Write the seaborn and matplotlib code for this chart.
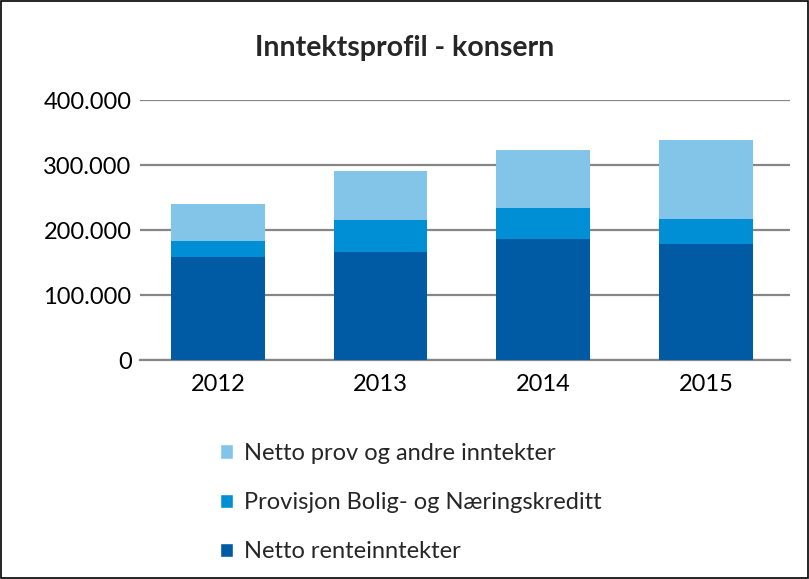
import numpy as np
import matplotlib
matplotlib.use("Agg")
import matplotlib.pyplot as plt
import pandas as pd
import seaborn as sns
from matplotlib.patches import Rectangle, Patch

# data (tusen kr)
years = ["2012", "2013", "2014", "2015"]
netto_rente = [159, 167, 187, 178]
provisjon = [25, 49, 47, 39]
netto_prov = [57, 75, 89, 122]

series_names = ["Netto renteinntekter", "Provisjon Bolig- og Næringskreditt",
                "Netto prov og andre inntekter"]
colors = ["#005BA4", "#008FD4", "#82C5E8"]

sns.set_style("white")
plt.rcParams["font.family"] = ["Lato", "DejaVu Sans"]

fig = plt.figure(figsize=(8.09, 5.79), dpi=100)
ax = fig.add_axes([0.173, 0.378, 0.804, 0.449])

df = pd.DataFrame({"year": years, series_names[0]: netto_rente,
                   series_names[1]: provisjon, series_names[2]: netto_prov})
bottom = np.zeros(len(years))
for name, col in zip(series_names, colors):
    sns.barplot(data=df, x="year", y=name, color=col, width=0.575,
                bottom=bottom, ax=ax, saturation=1, zorder=3, linewidth=0)
    bottom = bottom + df[name].values

ax.set_ylim(0, 400)
ax.set_xlim(-0.48, 3.52)
ax.set_yticks([0, 100, 200, 300, 400])
ax.set_yticklabels([f"{v*1000:,.0f}".replace(",", ".") for v in [0, 100, 200, 300, 400]])
ax.yaxis.grid(True, color="#868686", linewidth=1.6, zorder=0)
ax.set_axisbelow(True)
for s in ["top", "right", "left"]:
    ax.spines[s].set_visible(False)
ax.spines["bottom"].set_color("#868686")
ax.spines["bottom"].set_linewidth(1.6)
ax.tick_params(axis="both", length=0, labelsize=17, colors="black")
ax.tick_params(axis="x", pad=10)
ax.tick_params(axis="y", pad=6)
ax.set_xlabel("")
ax.set_ylabel("")

fig.text(0.5, 0.917, "Inntektsprofil - konsern", ha="center", va="center",
         fontsize=20.5, fontweight="bold")

handles = [Patch(facecolor=c) for c in colors[::-1]]
fig.legend(handles, series_names[::-1], loc="upper left",
           bbox_to_anchor=(0.246, 0.272), frameon=False, fontsize=17,
           handlelength=0.55, handleheight=0.55, handletextpad=0.45,
           labelspacing=1.2)

fig.patches.append(Rectangle((0.001, 0.001), 0.998, 0.998, transform=fig.transFigure,
                             fill=False, edgecolor="black", linewidth=1.2))

fig.savefig("out.png", dpi=100, facecolor="white")
